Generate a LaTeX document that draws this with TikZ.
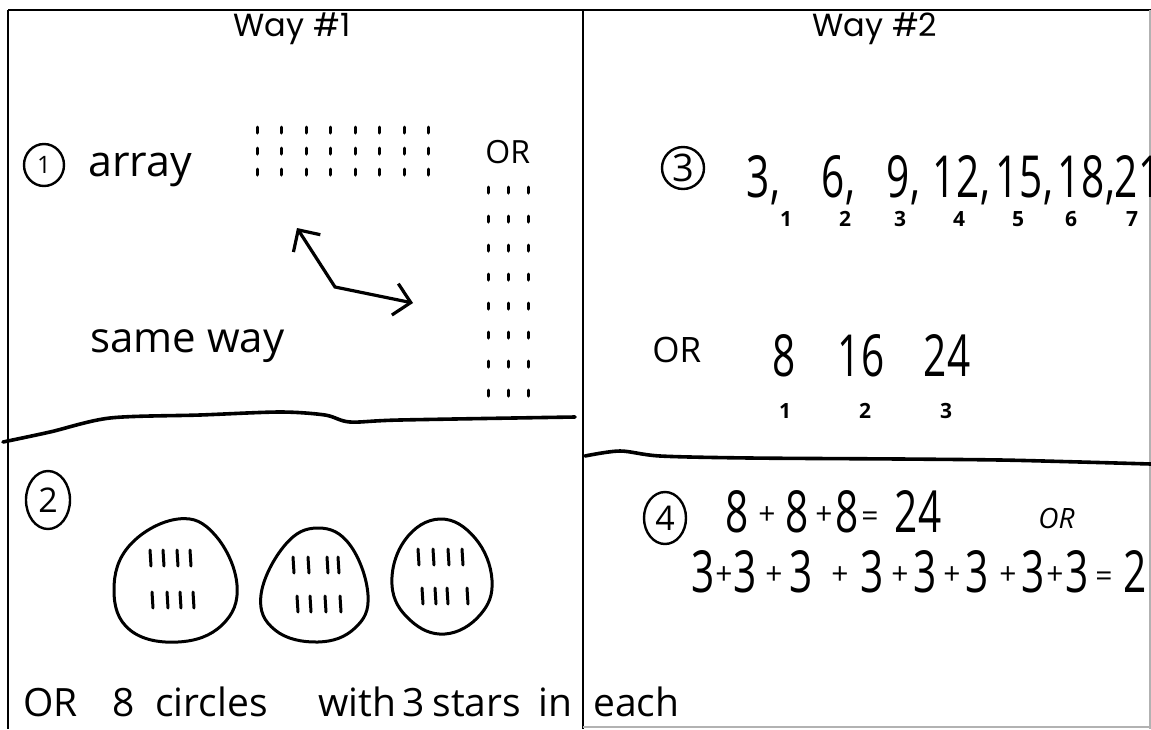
\documentclass[tikz,border=0pt]{standalone}
\usepackage{fontspec}
\setmainfont{Open Sans}
\newfontfamily\titlefont{Poppins}
\usetikzlibrary{arrows.meta,positioning,shapes.geometric,calc}
\newcommand{\slim}[1]{\scalebox{.7}[1]{#1}}

\begin{document}
\begin{tikzpicture}[x=0.5pt,y=-0.5pt,
    frame/.style={line width=1pt},
    rule/.style={line width=1.8pt, line cap=round},
    title/.style={inner sep=0pt, anchor=base, font=\titlefont\fontsize{16}{16}\selectfont},
    hand/.style={inner sep=0pt, anchor=base west, font=\fontsize{21}{21}\selectfont},
    sum/.style={inner sep=0pt, anchor=base, font=\fontsize{29}{29}\selectfont},
    comma/.style={inner sep=0pt, anchor=base west, font=\fontsize{29}{29}\selectfont},
    plus/.style={inner sep=0pt, anchor=base, font=\fontsize{15}{15}\selectfont},
    idx/.style={inner sep=0pt, anchor=base, font=\bfseries\fontsize{10.5}{10.5}\selectfont},
    numcirc/.style={draw, ellipse, line width=1.2pt, inner sep=0pt, font=\fontsize{17}{17}\selectfont},
    tick/.style={line width=1.5pt, line cap=round},
    blob/.style={line width=1.5pt}]
\useasboundingbox (0,0) rectangle (1151,729);

% frame
\draw[frame] (8,10) -- (1151,10);
\draw[frame] (8,10) -- (8,729);
\draw[frame] (583,10) -- (583,729);
\draw[line width=.6pt, gray!60] (1150,10) -- (1150,729);
\draw[line width=.6pt, gray!60] (583,727) -- (1151,727);
\draw[rule] plot[smooth] coordinates {(3,442) (50,432) (110,418) (200,415) (280,412) (325,415) (350,422) (400,420) (575,417)};
\draw[rule] plot[smooth] coordinates {(585,456) (620,451) (660,456) (750,458) (900,459) (1000,460) (1080,462) (1151,464)};

\node[title] (way1) at (292,36) {Way \#1};
\node[title] (way2) at (875,36) {Way \#2};

% way 1, top: array
\node[numcirc, minimum width=20pt, minimum height=21pt, font=\fontsize{12}{12}\selectfont] (c1) at (44,165) {1};
\node[hand, font=\fontsize{21.5}{21.5}\selectfont] (arr) at (88,176) {array};
\foreach \i in {0,...,7}
  \foreach \j in {0,1,2}
    \draw[tick] ({257+24.5*\i},{127+21*\j}) -- ++(0,6);
\node[hand, font=\fontsize{16}{16}\selectfont] (or1) at (485,163) {OR};
\foreach \i in {0,1,2}
  \foreach \j in {0,...,7}
    \draw[tick] ({488+20*\i},{187+29*\j}) -- ++(0,6);
\coordinate (tipa) at (297,228);
\coordinate (bend) at (335,287);
\coordinate (tipb) at (413,303);
\draw[line width=1.6pt, {Straight Barb[length=8pt,width=16pt]}-{Straight Barb[length=8pt,width=16pt]}] (tipa) -- (bend) -- (tipb);
\node[hand] (same) at (90,352) {same way};

% way 1, bottom: circles
\node[numcirc, minimum width=22pt, minimum height=29pt] (c2) at (48,500) {2};
\draw[blob] plot[smooth cycle, tension=.7] coordinates {(178,519) (215,535) (237,585) (222,625) (178,642) (130,630) (114,590) (130,545)};
\draw[blob] plot[smooth cycle, tension=.7] coordinates {(318,528) (350,545) (368,595) (355,628) (318,642) (275,630) (261,595) (285,545)};
\draw[blob] plot[smooth cycle, tension=.7] coordinates {(440,519) (475,538) (492,580) (480,615) (445,634) (410,620) (392,585) (405,540)};
\foreach \x/\y in {150/550, 163/550, 177/550, 190/550, 152/592, 167/592, 180/592, 193/592,
                   293/557, 308/557, 327/557, 338/557, 297/596, 310/596, 325/596, 340/596,
                   418/549, 433/549, 448/549, 462/549, 422/588, 435/588, 447/588, 467/588}
  \draw[tick] (\x,\y) -- ++(1,16);
\node[hand, font=\fontsize{19.5}{19.5}\selectfont] (or2) at (23,716) {OR};
\node[hand, font=\fontsize{19.5}{19.5}\selectfont] (eight) at (112,716) {8};
\node[hand, font=\fontsize{19.5}{19.5}\selectfont] (circ) at (155,716) {circles};
\node[hand, font=\fontsize{19.5}{19.5}\selectfont] (with) at (318,716) {with};
\node[hand, font=\fontsize{19.5}{19.5}\selectfont] (three) at (402,716) {3};
\node[hand, font=\fontsize{19.5}{19.5}\selectfont] (stars) at (432,716) {stars};
\node[hand, font=\fontsize{19.5}{19.5}\selectfont] (in) at (538,716) {in};
\node[hand, font=\fontsize{19.5}{19.5}\selectfont] (each) at (593,716) {each};

% way 2, top: skip counting
\node[numcirc, minimum width=21pt, minimum height=21pt, font=\fontsize{19}{19}\selectfont] (c3) at (683,168) {3};
\foreach \n/\x [count=\i] in {3/758, 6/833, 9/898, 12/956, 15/1019, 18/1081}
  \node[sum] (s\i) at (\x,197) {\slim{\n}}
    node[comma] at (s\i.base east) {\slim{,}};
\node[sum] (s7) at (1138,197) {\slim{21}};
\foreach \n/\x in {1/786, 2/845, 3/900, 4/959, 5/1018, 6/1071, 7/1132}
  \node[idx] (k\n) at (\x,226) {\n};
\node[hand, font=\fontsize{17.5}{17.5}\selectfont] (or3) at (652,362) {OR};
\foreach \n/\x in {8/784, 16/861, 24/947}
  \node[sum] (e\n) at (\x,376) {\slim{\n}};
\foreach \n/\x in {1/785, 2/865, 3/946}
  \node[idx] (m\n) at (\x,418) {\n};

% way 2, bottom: repeated addition
\node[numcirc, minimum width=21pt, minimum height=26pt] (c4) at (665,518) {4};
\foreach \n/\x in {8/737, 8/797, 8/847, 24/918}
  \node[sum] at (\x,532) {\slim{\n}};
\foreach \x in {767, 824}
  \node[plus] at (\x,524) {+};
\node[plus] (eqa) at (870,526) {=};
\node[hand, font=\itshape\fontsize{14}{14}\selectfont] (or4) at (1038,528) {OR};
\foreach \x in {703, 745, 801, 872, 925, 977, 1033, 1077}
  \node[sum] at (\x,592) {\slim{3}};
\foreach \x in {724, 774, 840, 900, 952, 1008, 1055}
  \node[plus] at (\x,584) {+};
\node[plus] (eqb) at (1104,586) {=};
\node[sum] (two) at (1135,592) {\slim{2}};
\end{tikzpicture}
\end{document}
